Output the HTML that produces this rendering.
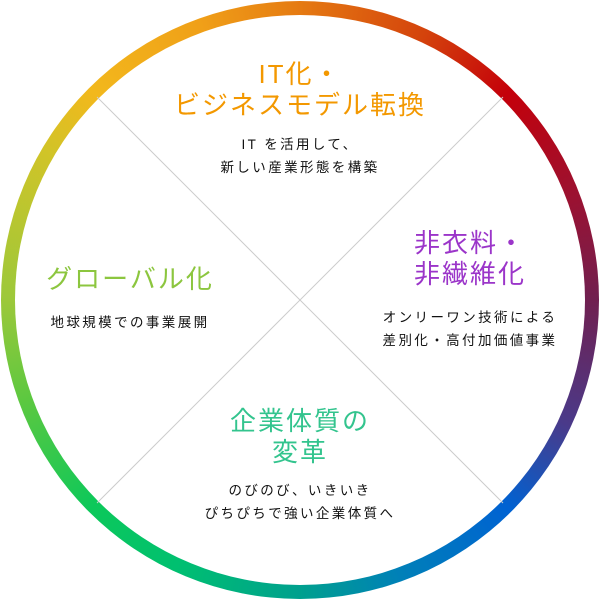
<!DOCTYPE html>
<html><head><meta charset="utf-8"><style>
body{margin:0;width:600px;height:600px;background:#fff;position:relative;overflow:hidden;font-family:"Liberation Sans","Noto Sans CJK JP",sans-serif}
.ring{position:absolute;left:1px;top:1px;width:598px;height:598px;border-radius:50%;
background:conic-gradient(from 0deg,#e57a12 0deg,#d4430c 25deg,#c4000a 45deg,#9a1232 70deg,#702050 90deg,#4a3a8a 115deg,#0062d2 135deg,#0080b8 160deg,#00a08e 180deg,#00c070 205deg,#0cc85a 225deg,#5cc840 250deg,#9cc83a 270deg,#d0c428 300deg,#f2b81c 315deg,#f0a018 340deg,#e57a12 360deg);}
.inner{position:absolute;left:15px;top:15px;width:570px;height:570px;border-radius:50%;background:#fff}
.t{position:absolute;text-align:center;font-size:26px;line-height:31px;letter-spacing:2px;white-space:nowrap}
.s{position:absolute;text-align:center;font-size:13.5px;line-height:23px;letter-spacing:2.4px;color:#111;white-space:nowrap}
</style></head><body>
<div class="ring"></div><div class="inner"></div>
<svg width="600" height="600" style="position:absolute;left:0;top:0">
<line x1="97" y1="97" x2="503" y2="503" stroke="#ccc" stroke-width="1"/>
<line x1="503" y1="97" x2="97" y2="503" stroke="#ccc" stroke-width="1"/>
</svg>
<div class="t" style="left:100px;width:400px;top:59px;color:#f39800">IT化・<br>ビジネスモデル転換</div>
<div class="s" style="left:100px;width:400px;top:133px">IT を活用して、<br>新しい産業形態を構築</div>
<div class="t" style="left:370px;width:200px;top:228px;color:#9b35c9">非衣料・<br>非繊維化</div>
<div class="s" style="left:360px;width:220px;top:306px">オンリーワン技術による<br>差別化・高付加価値事業</div>
<div class="t" style="left:30px;width:200px;top:264px;color:#8cc63f">グローバル化</div>
<div class="s" style="left:30px;width:200px;top:311px">地球規模での事業展開</div>
<div class="t" style="left:100px;width:400px;top:406px;color:#33c48e">企業体質の<br>変革</div>
<div class="s" style="left:100px;width:400px;top:479px">のびのび、いきいき<br>ぴちぴちで強い企業体質へ</div>
</body></html>
